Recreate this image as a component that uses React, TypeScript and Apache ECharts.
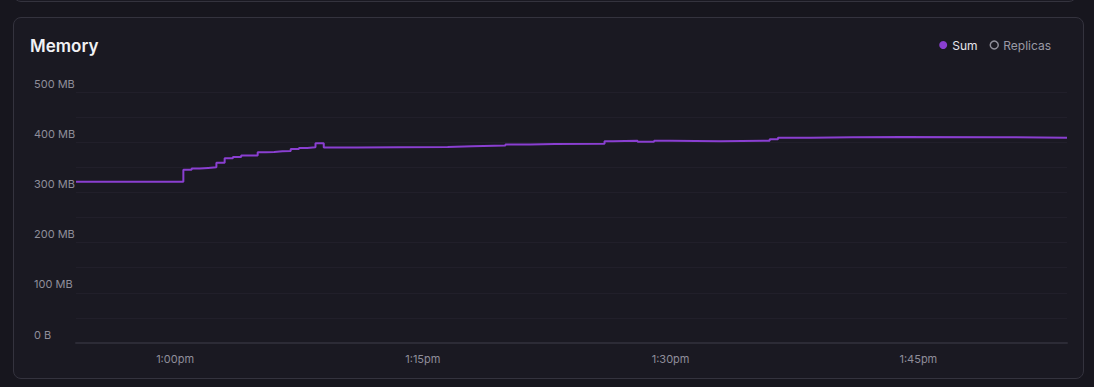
import React, { useEffect, useRef } from "react";
import * as echarts from "echarts";

// Step points: time the value starts, memory (MB)
const sumTimes: string[] = [
  "12:54:00", "13:00:30", "13:01:00", "13:01:30", "13:02:00", "13:02:30", "13:03:00",
  "13:03:30", "13:04:00", "13:05:00", "13:05:30", "13:06:00", "13:06:30", "13:07:00",
  "13:07:30", "13:08:00", "13:08:30", "13:09:00", "13:11:00", "13:13:30", "13:16:30",
  "13:18:00", "13:20:00", "13:21:30", "13:23:00", "13:26:00", "13:26:30", "13:28:00",
  "13:29:00", "13:30:00", "13:33:00", "13:36:00", "13:36:30", "13:38:30", "13:41:00",
  "13:44:00", "13:50:00", "13:54:00",
];
const sumValues: number[] = [
  321, 345, 347.4, 348.8, 350.2, 359.3, 368.1,
  370.7, 373.3, 380, 380.6, 382, 382.6, 386.6,
  388.6, 390, 398, 389.2, 390, 390.6, 392,
  393.2, 395.2, 396.5, 397.1, 401.9, 403.1, 401.1,
  403.1, 401.9, 403.1, 405.9, 409.1, 409.9, 410.5,
  409.9, 409.1, 409.1,
];
const replicasValues: number[] = [];

const axisStart = "12:54:00";
const axisEnd = "13:54:00";
const xTickTimes: string[] = ["13:00:00", "13:15:00", "13:30:00", "13:45:00"];
const yTicks: number[] = [0, 100, 200, 300, 400, 500];

const PURPLE = "#8a3fd1";

function toTs(t: string): number {
  const [h, m, s] = t.split(":").map(Number);
  return new Date(2024, 0, 1, h, m, s).getTime();
}

function fmtTime(v: number): string {
  const d = new Date(v);
  const m = d.getMinutes();
  let h = d.getHours();
  const ap = h >= 12 ? "pm" : "am";
  h = h % 12;
  if (h === 0) h = 12;
  return `${h}:${m.toString().padStart(2, "0")}${ap}`;
}

export default function App() {
  const ref = useRef<HTMLDivElement>(null);

  useEffect(() => {
    if (!ref.current) return;
    const chart = echarts.init(ref.current, undefined, { renderer: "svg" });
    const font = "Inter, 'Noto Sans', sans-serif";
    chart.setOption({
      animation: false,
      backgroundColor: "transparent",
      textStyle: { fontFamily: font },
      title: {
        text: "Memory",
        left: 30,
        top: 37,
        padding: 0,
        textStyle: { color: "#f1f1f4", fontSize: 17, fontWeight: 600, fontFamily: font },
      },
      legend: {
        right: 43,
        top: 39,
        padding: 0,
        itemWidth: 8,
        itemHeight: 8,
        itemGap: 12,
        selectedMode: false,
        textStyle: { fontSize: 12, fontFamily: font },
        data: [
          {
            name: "Sum",
            icon: "circle",
            itemStyle: { color: PURPLE },
            textStyle: { color: "#e6e6ec" },
          },
          {
            name: "Replicas",
            icon: "circle",
            itemStyle: { color: "transparent", borderColor: "#8f8e9a", borderWidth: 1.5 },
            textStyle: { color: "#9a99a5" },
          },
        ],
      },
      grid: { left: 76, right: 27, top: 92, bottom: 44 },
      xAxis: {
        type: "value",
        min: toTs(axisStart),
        max: toTs(axisEnd),
        axisLine: { show: true, lineStyle: { color: "#2c2b36", width: 2 } },
        axisTick: { show: false },
        splitLine: { show: false },
        axisLabel: {
          color: "#8f8e9a",
          fontSize: 11,
          fontFamily: font,
          margin: 10,
          hideOverlap: false,
          customValues: xTickTimes.map(toTs),
          formatter: (v: number) => fmtTime(v),
        },
      },
      yAxis: {
        type: "value",
        min: yTicks[0],
        max: yTicks[yTicks.length - 1],
        interval: 50,
        axisLine: { show: false },
        axisTick: { show: false },
        splitLine: { show: true, lineStyle: { color: "#211f2a", width: 1 } },
        axisLabel: {
          color: "#8f8e9a",
          fontSize: 11,
          fontFamily: font,
          align: "left",
          margin: 42,
          verticalAlign: "bottom",
          padding: [0, 0, 3, 0],
          formatter: (v: number) =>
            yTicks.includes(v) ? (v === 0 ? "0 B" : `${v} MB`) : "",
        },
      },
      series: [
        {
          name: "Sum",
          type: "line",
          step: "end",
          showSymbol: false,
          symbol: "none",
          color: PURPLE,
          lineStyle: { color: PURPLE, width: 2 },
          data: sumTimes.map((t, i) => [toTs(t), sumValues[i]]),
        },
        {
          name: "Replicas",
          type: "line",
          showSymbol: false,
          color: "#8f8e9a",
          data: replicasValues,
        },
      ],
    });
    return () => chart.dispose();
  }, []);

  return (
    <div
      style={{
        position: "fixed",
        left: 0,
        top: 0,
        width: 1094,
        height: 387,
        background: "#17161e",
        overflow: "hidden",
      }}
    >
      <div
        style={{
          position: "absolute",
          left: 13,
          top: -20,
          width: 1062,
          height: 20,
          border: "1px solid #34333e",
          borderRadius: 8,
          background: "#1a1922",
        }}
      />
      <div
        style={{
          position: "absolute",
          left: 13,
          top: 17,
          width: 1069,
          height: 360,
          border: "1px solid #34333e",
          borderRadius: 8,
          background: "#1a1922",
        }}
      />
      <div
        ref={ref}
        style={{ position: "absolute", left: 0, top: 0, width: 1094, height: 387 }}
      />
    </div>
  );
}
